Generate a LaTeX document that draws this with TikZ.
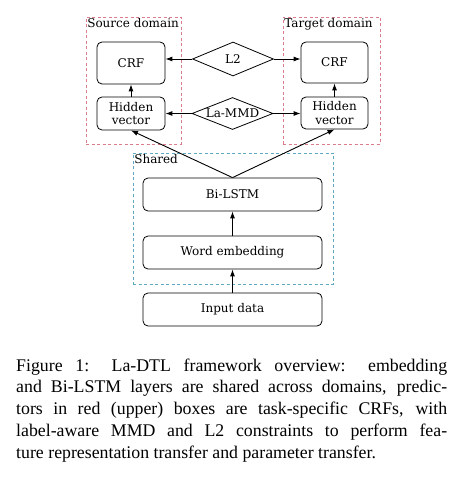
\documentclass[tikz,border=0pt]{standalone}
\usepackage{fontspec}
\setmainfont{Liberation Serif}
\newfontfamily\diagfont{DejaVu Serif}
\usetikzlibrary{shapes.geometric,arrows.meta}
\definecolor{domred}{RGB}{220,125,140}
\definecolor{sharedblue}{RGB}{95,170,190}
\begin{document}
\begin{tikzpicture}[x=1pt, y=-1pt,
    every node/.style={font=\diagfont\fontsize{12}{13.5}\selectfont},
    layer/.style={draw, rounded corners=5pt, line width=0.8pt, align=center, inner sep=0pt},
    domainbox/.style={draw=domred, dash pattern=on 3pt off 2.5pt, line width=0.8pt, inner sep=0pt},
    constraint/.style={diamond, draw, line width=0.8pt, inner xsep=-25pt, inner ysep=-8pt},
    link/.style={-{Latex[length=7pt,width=5pt]}, line width=0.9pt}]
\useasboundingbox[fill=white] (0,0) rectangle (466,478);
% domain boxes
\node [domainbox, minimum width=95pt, minimum height=127pt] (srcdom) at (133.5,80.5) {};
\node [domainbox, minimum width=97pt, minimum height=127pt] (tgtdom) at (331.5,80.5) {};
\node [domainbox, draw=sharedblue, minimum width=200pt, minimum height=131pt] (shared) at (233,218.5) {};
\node [anchor=north west, inner sep=1.5pt] at (srcdom.north west) {Source domain};
\node [anchor=north west, inner sep=1.5pt] at (tgtdom.north west) {Target domain};
\node [anchor=north west, inner sep=1.5pt] at (shared.north west) {Shared};
% layers
\node [layer, minimum width=68pt, minimum height=42pt] (crfS) at (131,63) {CRF};
\node [layer, minimum width=68pt, minimum height=33pt] (hidS) at (131,113.5) {Hidden\\vector};
\node [layer, minimum width=67pt, minimum height=41pt] (crfT) at (334.5,62.5) {CRF};
\node [layer, minimum width=67pt, minimum height=32pt] (hidT) at (334.5,113) {Hidden\\vector};
\node [constraint, minimum width=81pt, minimum height=34pt] (l2) at (233,59) {L2};
\node [constraint, minimum width=81pt, minimum height=32pt] (mmd) at (232.5,113.5) {La-MMD};
\node [layer, minimum width=179pt, minimum height=33pt] (bilstm) at (232.5,194.5) {Bi-LSTM};
\node [layer, minimum width=179pt, minimum height=33pt] (wordemb) at (232.5,252.5) {Word embedding};
\node [layer, minimum width=179pt, minimum height=33pt] (input) at (232.5,309.5) {Input data};
% connectors
\draw [link] (l2.west) -- (l2.west -| crfS.east);
\draw [link] (l2.east) -- (l2.east -| crfT.west);
\draw [link] (mmd.west) -- (mmd.west -| hidS.east);
\draw [link] (mmd.east) -- (mmd.east -| hidT.west);
\draw [link] (hidS) -- (crfS);
\draw [link] (hidT) -- (crfT);
\draw [link] (bilstm.north) -- (hidS.south);
\draw [link] (bilstm.north) -- (hidT.south);
\draw [link] (wordemb) -- (bilstm);
\draw [link] (input) -- (wordemb);
% caption
\node [anchor=base west, text width=431pt, align=justify, inner sep=0pt,
    font=\rmfamily\fontsize{17.8}{21.8}\selectfont] (caption) at (16,371)
    {Figure 1: La-DTL framework overview: embedding\linebreak
    and Bi-LSTM layers are shared across domains, predic-\linebreak
    tors in red (upper) boxes are task-specific CRFs, with\linebreak
    label-aware MMD and L2 constraints to perform fea-\linebreak
    ture representation transfer and parameter transfer.};
\end{tikzpicture}
\end{document}
